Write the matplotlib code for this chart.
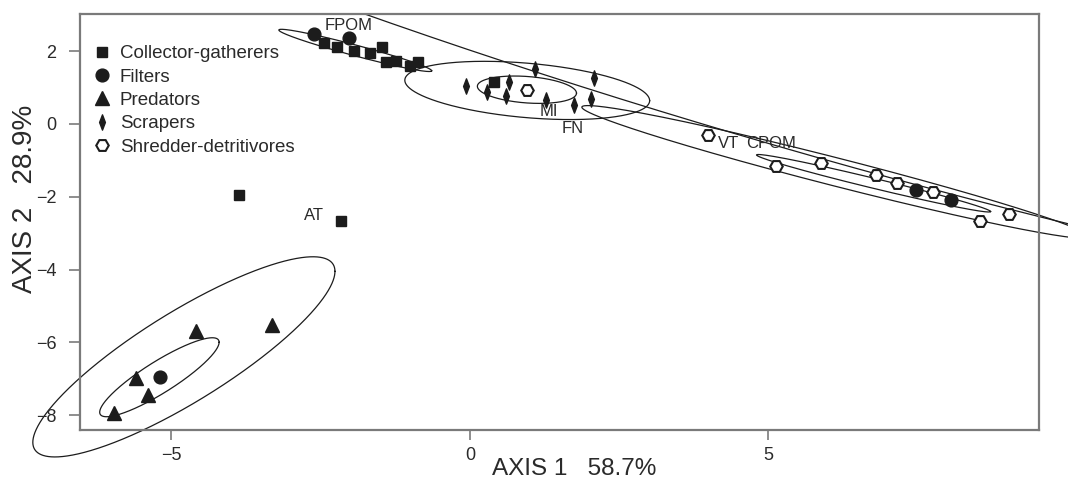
import numpy as np
import matplotlib
matplotlib.use('Agg')
import matplotlib.pyplot as plt
from matplotlib.path import Path
from matplotlib.patches import Rectangle

plt.rcParams['font.family'] = ['Liberation Sans', 'DejaVu Sans']

# functional feeding groups (axis 1, axis 2 scores)
collector_x = [-2.44, -2.22, -1.94, -1.68, -1.48, -1.41, -1.24, -1.01, -0.87, 0.41, -3.86, -2.16]
collector_y = [2.23, 2.11, 2.01, 1.94, 2.12, 1.71, 1.74, 1.60, 1.70, 1.16, -1.96, -2.67]
filter_x = [-2.61, -2.03, 7.47, 8.05, -5.19]
filter_y = [2.46, 2.37, -1.81, -2.10, -6.94]
predator_x = [-4.59, -3.31, -5.60, -5.39, -5.96]
predator_y = [-5.68, -5.52, -6.99, -7.46, -7.93]
scraper_x = [-0.07, 0.28, 0.61, 0.66, 1.09, 1.27, 1.75, 2.03, 2.07]
scraper_y = [1.05, 0.87, 0.77, 1.16, 1.50, 0.66, 0.52, 0.69, 1.26]
shredder_x = [0.95, 3.98, 5.13, 5.88, 6.80, 7.16, 7.75, 8.55, 9.03]
shredder_y = [0.93, -0.30, -1.15, -1.08, -1.40, -1.63, -1.88, -2.66, -2.47]

# site / variable labels
label_text = ['FPOM', 'MI', 'FN', 'VT', 'CPOM', 'AT']
label_x = [-2.43, 1.17, 1.54, 4.15, 4.63, -2.78]
label_y = [2.70, 0.33, -0.12, -0.53, -0.53, -2.51]

# ellipses: centre, half-range on x and y, correlation
ell_cx = [-4.79, -5.20, -1.92, 0.96, 0.955, 6.76, 6.13, 4.54]
ell_cy = [-6.40, -6.96, 2.02, 0.92, 0.94, -1.63, -1.32, 3.33]
ell_sx = [2.53, 1.00, 1.28, 2.05, 0.83, 1.96, 4.255, 16.06]
ell_sy = [2.75, 1.085, 0.58, 0.80, 0.376, 0.79, 1.824, 8.57]
ell_r = [0.854, 0.885, -0.965, -0.35, -0.25, -0.984, -0.976, -0.905]


def ellipse_xy(cx, cy, sx, sy, r, n=2000):
    t = np.linspace(0, 2 * np.pi, n)
    cov = np.array([[sx ** 2, r * sx * sy], [r * sx * sy, sy ** 2]])
    L = np.linalg.cholesky(cov)
    pts = L @ np.vstack([np.cos(t), np.sin(t)])
    return cx + pts[0], cy + pts[1]


thin_diamond = Path([(0, 1), (0.38, 0), (0, -1), (-0.38, 0), (0, 1)],
                    [Path.MOVETO, Path.LINETO, Path.LINETO, Path.LINETO, Path.CLOSEPOLY])

ink = '#1c1c1c'
txt = '#2a2a2a'
spine = '#7a7a7a'

fig = plt.figure(figsize=(10.68, 4.83), dpi=100)
ax = fig.add_axes([0.0749, 0.1097, 0.8979, 0.8613])

# ellipses may run past the frame, except over the top edge
clip_box = Rectangle((-0.3, -0.3), 1.6, 1.3, transform=ax.transAxes, visible=False)
ax.add_patch(clip_box)
for cx, cy, sx, sy, r in zip(ell_cx, ell_cy, ell_sx, ell_sy, ell_r):
    ex, ey = ellipse_xy(cx, cy, sx, sy, r)
    ln, = ax.plot(ex, ey, color=ink, lw=0.9, zorder=1)
    ln.set_clip_path(clip_box)

ax.plot(collector_x, collector_y, 's', ms=7.6, color=ink, mec=ink, ls='', label='Collector-gatherers', zorder=3)
ax.plot(filter_x, filter_y, 'o', ms=9.2, color=ink, mec=ink, ls='', label='Filters', zorder=3)
ax.plot(predator_x, predator_y, '^', ms=9.8, color=ink, mec=ink, ls='', label='Predators', zorder=3)
ax.plot(scraper_x, scraper_y, marker=thin_diamond, ms=11, color=ink, mec=ink, ls='', label='Scrapers', zorder=3)
ax.plot(shredder_x, shredder_y, 'H', ms=9, mfc='white', mec=ink, mew=1.5, ls='', label='Shredder-detritivores', zorder=3)

for s, x, y in zip(label_text, label_x, label_y):
    ax.text(x, y, s, fontsize=12, color=txt, ha='left', va='center', zorder=4)

ax.set_xlim(-6.53, 9.53)
ax.set_ylim(-8.41, 3.02)
ax.set_xticks([-5, 0, 5])
ax.set_yticks([-8, -6, -4, -2, 0, 2])
for s in ax.spines.values():
    s.set_color(spine)
    s.set_linewidth(1.6)
ax.tick_params(direction='out', width=1.2, color=spine, labelsize=13, labelcolor=txt)
ax.tick_params(axis='x', length=7, pad=5.5)
ax.tick_params(axis='y', length=8, pad=9)

ax.set_xlabel('AXIS 1   58.7%', fontsize=17.5, color=txt)
ax.xaxis.set_label_coords(0.5155, -0.067)
ax.set_ylabel('AXIS 2   28.9%', fontsize=20, color=txt)
ax.yaxis.set_label_coords(-0.044, 0.555)

leg = ax.legend(loc='upper left', bbox_to_anchor=(0.013, 0.925), frameon=False, fontsize=13.5,
                handlelength=1.0, handletextpad=0.45, labelspacing=0.33, borderpad=0, borderaxespad=0)
for t in leg.get_texts():
    t.set_color(txt)

fig.savefig('out.png', dpi=100)
